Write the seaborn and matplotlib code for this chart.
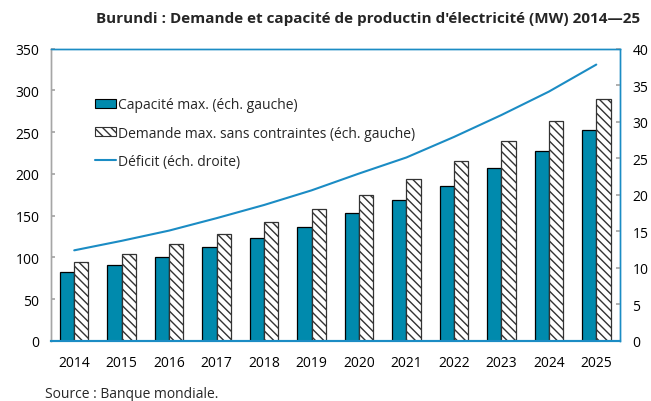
import matplotlib
matplotlib.use("Agg")
import matplotlib.pyplot as plt
import seaborn as sns
import pandas as pd
import numpy as np
from matplotlib.patches import Patch
from matplotlib.lines import Line2D

years = ["2014", "2015", "2016", "2017", "2018", "2019", "2020", "2021", "2022", "2023", "2024", "2025"]
capacite = [83, 91, 100, 112, 123.5, 137, 153, 169, 186, 207, 227.5, 252]
demande = [95, 104, 116, 128, 142, 158, 175, 193.5, 215, 239, 263, 289]
deficit = [12.4, 13.7, 15.1, 16.8, 18.6, 20.6, 22.9, 25.1, 27.9, 30.9, 34.1, 37.8]

lab_cap = "Capacité max. (éch. gauche)"
lab_dem = "Demande max. sans contraintes (éch. gauche)"
lab_def = "Déficit (éch. droite)"

sns.set_theme(style="white")
plt.rcParams['font.family'] = ['Open Sans', 'DejaVu Sans']
plt.rcParams['hatch.linewidth'] = 1.0

teal = "#008AAD"
blue = "#1B8CC4"
gray = "#A6A6A6"

df = pd.DataFrame({
    "year": years * 2,
    "value": capacite + demande,
    "serie": [lab_cap] * len(years) + [lab_dem] * len(years),
})

fig = plt.figure(figsize=(6.51, 4.02), dpi=100)
ax = fig.add_axes([50.5 / 651, 60 / 402, 569.5 / 651, 292.5 / 402])

sns.barplot(data=df, x="year", y="value", hue="serie", palette=[teal, "white"],
            width=0.6, saturation=1, edgecolor="black", linewidth=0.9, ax=ax, legend=False)
n = len(years)
for i, p in enumerate(ax.patches[:2 * n]):
    if i >= n:
        p.set_hatch("\\\\\\\\")
        p.set_edgecolor("#333333")
ax.set_xlim(-0.5, n - 0.5)
ax.set_ylim(0, 350)
ax.set_yticks(range(0, 351, 50))
ax.set_xlabel("")
ax.set_ylabel("")

ax2 = ax.twinx()
sns.lineplot(x=np.arange(n), y=deficit, color=blue, linewidth=1.5, ax=ax2)
ax2.set_ylim(0, 40)
ax2.set_yticks(range(0, 41, 5))

for a in (ax, ax2):
    for s in a.spines.values():
        s.set_color(blue)
        s.set_linewidth(1.0)
    a.spines['bottom'].set_linewidth(1.5)
    a.spines['left'].set_color(gray)
ax.tick_params(axis='y', direction='in', length=3, color=gray, labelsize=10, pad=8, labelcolor='black')
ax2.tick_params(axis='y', direction='in', length=3, color=gray, labelsize=10, pad=9, labelcolor='black')
ax.set_xticks(np.arange(n))
ax.set_xticklabels(years)
ax.tick_params(axis='x', length=0, labelsize=10, pad=10, labelcolor='black')
ax.set_xticks(np.arange(-0.5, n, 1), minor=True)
ax.tick_params(axis='x', which='minor', direction='in', length=3, color=gray)

handles = [Patch(facecolor=teal, edgecolor="black", linewidth=0.8),
           Patch(facecolor="white", edgecolor="#333333", hatch="\\\\\\\\", linewidth=0.8),
           Line2D([0], [0], color=blue, linewidth=1.5)]
ax.legend(handles, [lab_cap, lab_dem, lab_def], loc="upper left",
          bbox_to_anchor=(0.079, 0.833), frameon=False, fontsize=10,
          handlelength=1.5, handleheight=0.6, handletextpad=0.15, labelspacing=0.95,
          borderaxespad=0, borderpad=0)

fig.text(640 / 651, 1 - 19 / 402, "Burundi : Demande et capacité de productin d'électricité (MW) 2014—25",
         ha="right", va="center", fontsize=11, fontweight="bold")
fig.text(45 / 651, 1 - 395 / 402, "Source : Banque mondiale.", ha="left", va="center", fontsize=10)

fig.savefig("out.png", dpi=100)
